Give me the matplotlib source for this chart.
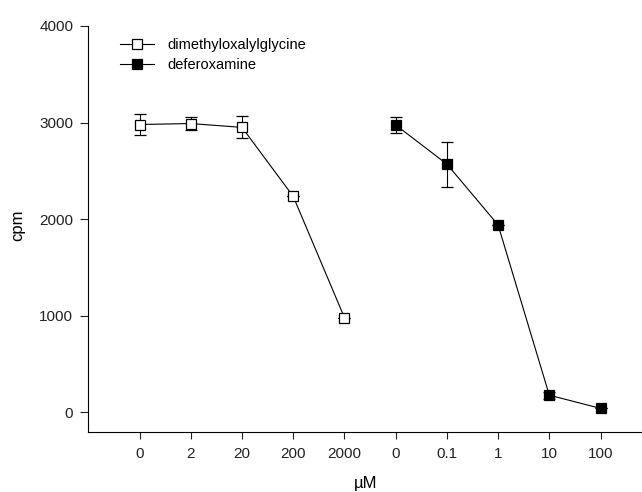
import matplotlib
matplotlib.use("Agg")
import matplotlib.pyplot as plt
from matplotlib.lines import Line2D

plt.rcParams['font.family'] = ['Liberation Sans', 'DejaVu Sans']

tick_labels = ["0", "2", "20", "200", "2000", "0", "0.1", "1", "10", "100"]
dmog_pos = [0, 1, 2, 3, 4]
dmog_vals = [2980, 2990, 2950, 2235, 980]
dmog_err = [108, 72, 113, 0, 0]
dfo_pos = [5, 6, 7, 8, 9]
dfo_vals = [2975, 2570, 1940, 178, 41]
dfo_err = [86, 232, 0, 35, 0]

fig = plt.figure(figsize=(6.42, 4.92), dpi=100)
ax = fig.add_axes([0.1377, 0.1226, 0.8623, 0.8246])

ax.errorbar(dmog_pos, dmog_vals, yerr=dmog_err, color='black', lw=0.8,
            marker='s', ms=7, mfc='white', mec='black', mew=0.9,
            capsize=4, elinewidth=0.8, capthick=0.8,
            label='dimethyloxalylglycine')
ax.errorbar(dfo_pos, dfo_vals, yerr=dfo_err, color='black', lw=0.8,
            marker='s', ms=7.5, mfc='black', mec='black', mew=0.9,
            capsize=4, elinewidth=0.8, capthick=0.8,
            label='deferoxamine')

ax.set_xlim(-1, 9.81)
ax.set_ylim(-200, 4000)
ax.set_yticks([0, 1000, 2000, 3000, 4000])
ax.set_xticks(range(len(tick_labels)))
ax.set_xticklabels(tick_labels)
for s in ['top', 'right']:
    ax.spines[s].set_visible(False)
for s in ['left', 'bottom']:
    ax.spines[s].set_linewidth(0.8)
ax.tick_params(axis='y', direction='out', length=6, width=0.8, labelsize=11, pad=5, colors='#222222')
ax.tick_params(axis='x', direction='out', length=5, width=0.8, labelsize=11, pad=6, colors='#222222')
ax.set_ylabel('cpm', fontsize=12)
ax.yaxis.set_label_coords(-0.1145, 0.51)
ax.set_xlabel('µM', fontsize=12, labelpad=11)

h1 = Line2D([], [], color='black', lw=0.8, marker='s', ms=7, mfc='white', mec='black', mew=0.9)
h2 = Line2D([], [], color='black', lw=0.8, marker='s', ms=7.5, mfc='black', mec='black', mew=0.9)
ax.legend([h1, h2], ['dimethyloxalylglycine', 'deferoxamine'], loc='upper left',
          bbox_to_anchor=(0.0571, 0.97), frameon=False, fontsize=10.5,
          handlelength=2.33, handletextpad=0.9, labelspacing=0.4,
          borderpad=0, borderaxespad=0)

fig.savefig('out.png', dpi=100)
